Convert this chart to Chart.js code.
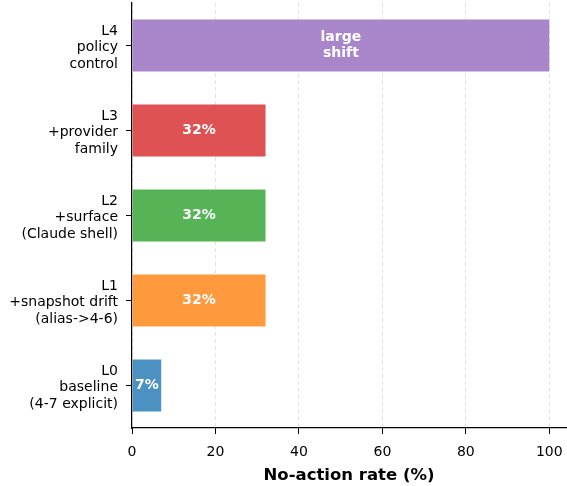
<!DOCTYPE html>
<html lang="en">
<head>
  <meta charset="UTF-8" />
  <title>No-action rate by layer</title>
  <script src="https://cdn.jsdelivr.net/npm/chart.js"></script>
  <style>
    html,body{margin:0;padding:0;background:#fff;}
    #wrap{width:567px;height:486px;}
  </style>
</head>
<body>
  <div id="wrap"><canvas id="chart" width="567" height="486"></canvas></div>
<script>
  // Data (bottom to top)
  const layers=[
    ['L0','baseline','(4-7 explicit)'],
    ['L1','+snapshot drift','(alias->4-6)'],
    ['L2','+surface','(Claude shell)'],
    ['L3','+provider','family'],
    ['L4','policy','control']
  ];
  const noActionRate=[7,32,32,32,100];
  const barText=['7%','32%','32%','32%',['large','shift']];
  const xTicks=[0,20,40,60,80,100];
  const barColors=['#4b92c3','#ff993e','#56b356','#de5253','#a985ca'];

  const font='"DejaVu Sans", sans-serif';

  // white labels in the middle of each bar
  const barLabels={
    id:'barLabels',
    afterDatasetsDraw(chart){
      const ctx=chart.ctx;
      const meta=chart.getDatasetMeta(0);
      ctx.save();
      ctx.fillStyle='#fff';
      ctx.font='bold 14px '+font;
      ctx.textAlign='center';
      ctx.textBaseline='middle';
      meta.data.forEach((bar,i)=>{
        const cx=(bar.x+bar.base)/2;
        const lines=[].concat(barText[i]);
        const lh=16;
        lines.forEach((t,j)=>{
          ctx.fillText(t,cx,bar.y+(j-(lines.length-1)/2)*lh);
        });
      });
      ctx.restore();
    }
  };

  new Chart(document.getElementById('chart'),{
    type:'bar',
    data:{labels:layers,datasets:[{data:noActionRate,backgroundColor:barColors,borderWidth:0,barPercentage:0.61,categoryPercentage:1}]},
    options:{
      responsive:false,animation:false,indexAxis:'y',
      layout:{padding:{top:3,right:1,left:0,bottom:0}},
      plugins:{legend:{display:false},tooltip:{enabled:false}},
      scales:{
        x:{
          min:0,max:104,
          afterBuildTicks(s){s.ticks=xTicks.map(v=>({value:v}));},
          afterFit(s){s.height=58;s.paddingLeft=0;s.paddingRight=0;},
          ticks:{color:'#000',font:{family:font,size:14},padding:10},
          grid:{color:'#e3e3e3',lineWidth:1,tickColor:'#000',tickLength:6,tickBorderDash:[]},
          border:{color:'#000',width:1.2,dash:[4,3]},
          title:{display:true,text:'No-action rate (%)',color:'#000',font:{family:font,size:16.5,weight:'bold'},padding:{top:0,bottom:0}}
        },
        y:{
          reverse:true,
          afterFit(s){s.width=132;s.paddingTop=0;s.paddingBottom=0;},
          ticks:{color:'#000',font:{family:font,size:14,lineHeight:1.17},padding:8,labelOffset:2},
          grid:{offset:false,drawOnChartArea:false,tickColor:'#000',tickLength:6},
          border:{color:'#000',width:1.2}
        }
      }
    },
    plugins:[barLabels]
  });
</script>
</body>
</html>
